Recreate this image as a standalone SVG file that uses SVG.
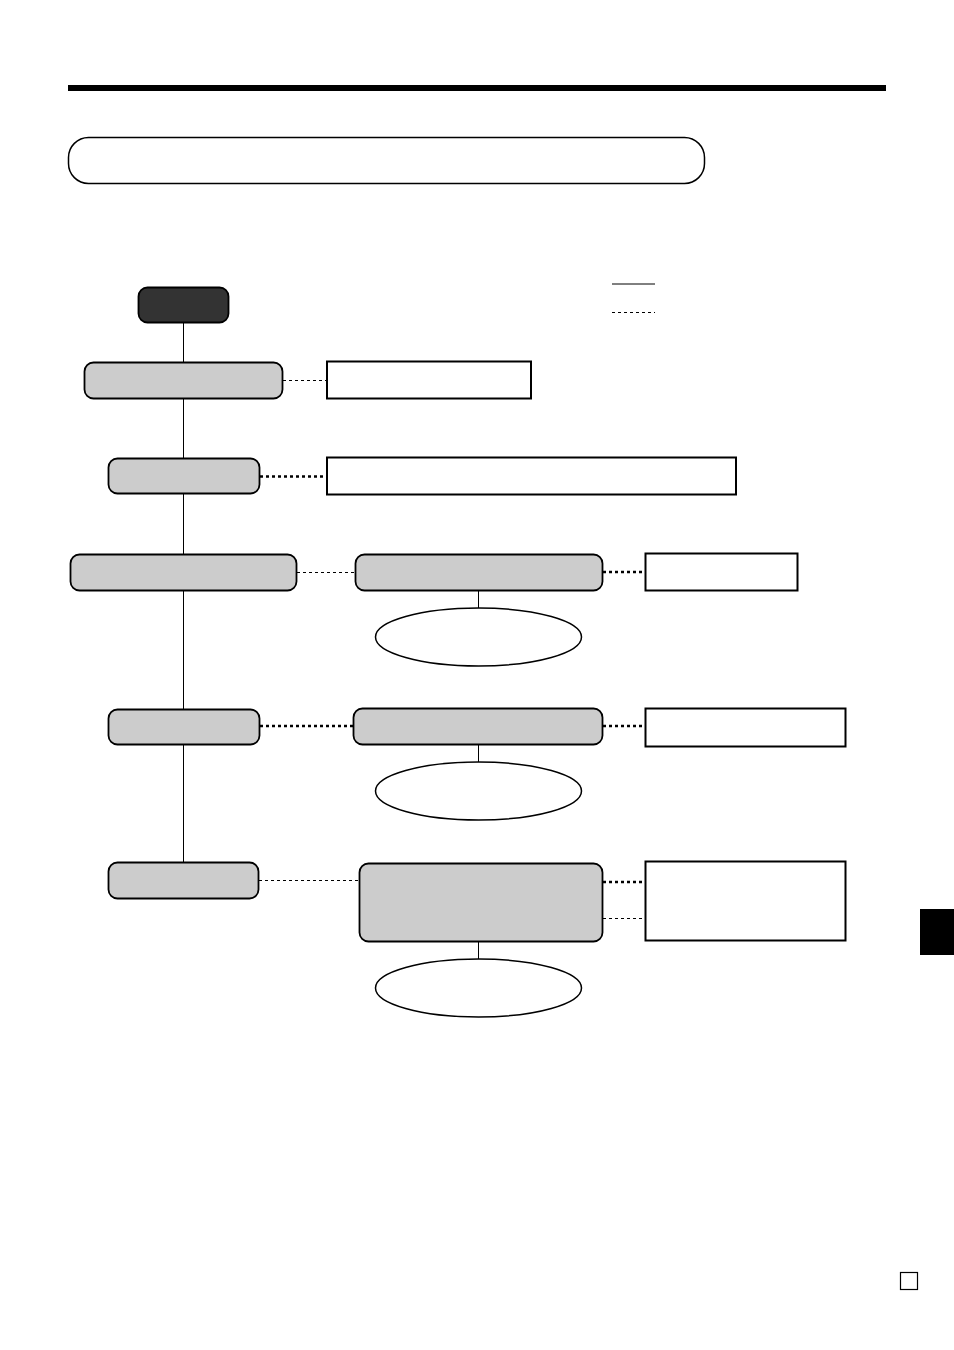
<svg xmlns="http://www.w3.org/2000/svg" width="954" height="1350" viewBox="0 0 954 1350">
<style>
.n{fill:#cccccc;stroke:#000;stroke-width:1.8}
.b{fill:#fff;stroke:#000;stroke-width:2}
.e{fill:#fff;stroke:#000;stroke-width:1.5}
.s{stroke:#000;stroke-width:1;fill:none}
.d{stroke:#000;stroke-width:1;stroke-dasharray:3,3;fill:none}
.t{stroke:#000;stroke-width:2.5;stroke-dasharray:3,3;fill:none}
</style>
<rect width="954" height="1350" fill="#fff"/>
<rect x="68" y="85" width="818" height="6" fill="#000"/>
<rect id="title" x="68.5" y="137.5" width="636" height="46" rx="20" fill="#fff" stroke="#000" stroke-width="1.5"/>
<g id="legend">
<line class="s" x1="612" y1="284" x2="655" y2="284" stroke-width="1.5"/>
<line class="d" x1="612" y1="312.5" x2="655" y2="312.5"/>
</g>
<g id="connectors">
<line class="s" x1="183.5" y1="323" x2="183.5" y2="862"/>
<line class="d" x1="283" y1="380.5" x2="327" y2="380.5"/>
<line class="t" x1="260" y1="476.5" x2="327" y2="476.5"/>
<line class="d" x1="297" y1="572.5" x2="355" y2="572.5"/>
<line class="t" x1="603" y1="572" x2="645" y2="572"/>
<line class="s" x1="478.5" y1="591" x2="478.5" y2="608"/>
<line class="t" x1="260" y1="726" x2="353" y2="726"/>
<line class="t" x1="603" y1="726" x2="645" y2="726"/>
<line class="s" x1="478.5" y1="745" x2="478.5" y2="762"/>
<line class="d" x1="259" y1="880.5" x2="359" y2="880.5"/>
<line class="t" x1="603" y1="882" x2="645" y2="882"/>
<line class="d" x1="603" y1="918.5" x2="645" y2="918.5"/>
<line class="s" x1="478.5" y1="942" x2="478.5" y2="959"/>
</g>
<g id="start"><rect x="138.5" y="287.5" width="90" height="35" rx="9" fill="#333333" stroke="#000" stroke-width="1.8"/></g>
<g id="n1"><rect class="n" x="84.5" y="362.5" width="198" height="36" rx="9"/></g>
<g id="box1"><rect class="b" x="327" y="361.5" width="204" height="37"/></g>
<g id="n2"><rect class="n" x="108.5" y="458.5" width="151" height="35" rx="9"/></g>
<g id="box2"><rect class="b" x="327" y="457.5" width="409" height="37"/></g>
<g id="n3"><rect class="n" x="70.5" y="554.5" width="226" height="36" rx="9"/></g>
<g id="n3b"><rect class="n" x="355.5" y="554.5" width="247" height="36" rx="9"/></g>
<g id="box3"><rect class="b" x="645.5" y="553.5" width="152" height="37"/></g>
<g id="e1"><ellipse class="e" cx="478.5" cy="637" rx="103" ry="29"/></g>
<g id="n4"><rect class="n" x="108.5" y="709.5" width="151" height="35" rx="9"/></g>
<g id="n4b"><rect class="n" x="353.5" y="708.5" width="249" height="36" rx="9"/></g>
<g id="box4"><rect class="b" x="645.5" y="708.5" width="200" height="38"/></g>
<g id="e2"><ellipse class="e" cx="478.5" cy="791" rx="103" ry="29"/></g>
<g id="n5"><rect class="n" x="108.5" y="862.5" width="150" height="36" rx="9"/></g>
<g id="n5b"><rect class="n" x="359.5" y="863.5" width="243" height="78" rx="9"/></g>
<g id="box5"><rect class="b" x="645.5" y="861.5" width="200" height="79"/></g>
<g id="e3"><ellipse class="e" cx="478.5" cy="988" rx="103" ry="29"/></g>
<rect x="920" y="909" width="34" height="46" fill="#000"/>
<rect x="900.5" y="1272.5" width="17" height="17" fill="#fff" stroke="#000" stroke-width="1.2"/>
</svg>
